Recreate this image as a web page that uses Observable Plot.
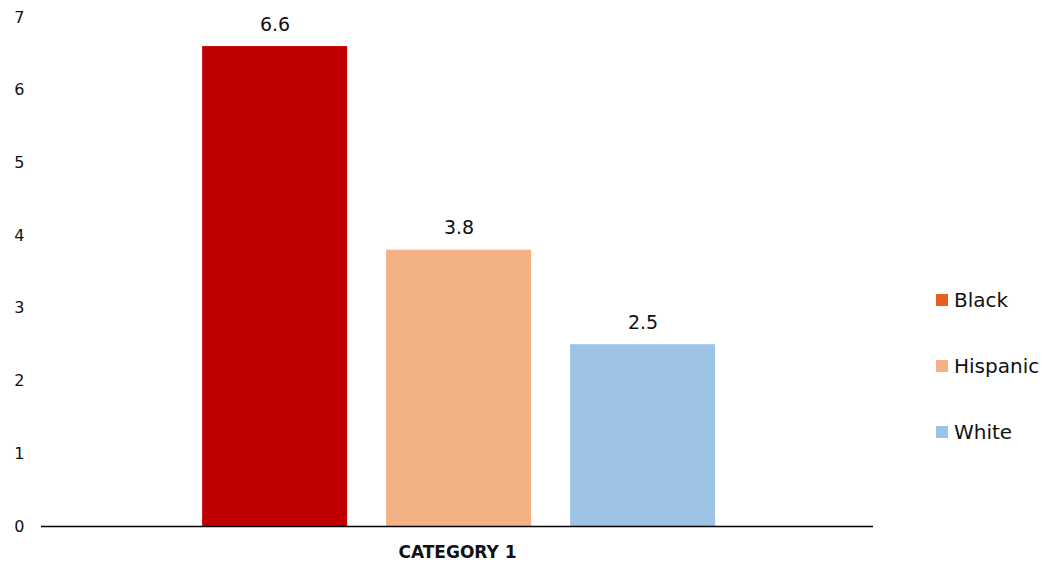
<!DOCTYPE html>
<html>
<head>
<meta charset="utf-8">
<script src="https://cdn.jsdelivr.net/npm/d3@7"></script>
<script src="https://cdn.jsdelivr.net/npm/@observablehq/plot@0.6"></script>
<style>
  html, body { margin: 0; padding: 0; background: #fff; }
  #wrap { position: relative; width: 1045px; height: 563px; font-family: "DejaVu Sans", sans-serif; }
  #legend { position: absolute; left: 936px; top: 288px; }
  .item { display: flex; align-items: center; height: 24px; margin-bottom: 42px; font-size: 20px; color: #111; }
  .sw { width: 12px; height: 12px; margin-right: 6px; }
</style>
</head>
<body>
<div id="wrap"></div>
<script>
// Series for the single category
const category = "CATEGORY 1";
const groups = ["Black", "Hispanic", "White"];
const values = [6.6, 3.8, 2.5];
const barColors = ["#C00000", "#F4B183", "#9DC3E6"];
const legendColors = ["#E5601C", "#F4B183", "#9DC3E6"];
const yTicks = [0, 1, 2, 3, 4, 5, 6, 7];

const data = groups.map((g, i) => ({category, group: g, value: values[i]}));

const font = "'DejaVu Sans', sans-serif";

const chart = Plot.plot({
  width: 1045,
  height: 563,
  marginLeft: 41,
  marginRight: 172,
  marginTop: 17,
  marginBottom: 37,
  style: {fontFamily: font, fontSize: "16px", color: "#111", background: "#fff"},
  fx: {domain: [category], padding: 0, round: false, label: null},
  x: {domain: groups, paddingInner: 0.212, paddingOuter: 0.867, align: 0.505, round: false, axis: null},
  y: {domain: [0, 7], ticks: yTicks, label: null},
  color: {domain: groups, range: barColors},
  marks: [
    Plot.axisY({ticks: yTicks, tickFormat: d3.format("d"), tickSize: 0, tickPadding: 17, label: null, fontSize: 16}),
    Plot.axisFx({anchor: "bottom", tickSize: 0, tickPadding: 19, label: null, fontWeight: "bold", fontSize: 17}),
    Plot.barY(data, {fx: "category", x: "group", y: "value", fill: "group"}),
    Plot.text(data, {fx: "category", x: "group", y: "value", text: d => d.value.toFixed(1), dy: -22, fontSize: 19, fill: "#111"}),
    Plot.ruleY([0], {stroke: "#000", strokeWidth: 1.5})
  ]
});

const wrap = document.getElementById("wrap");
wrap.appendChild(chart);

const legend = document.createElement("div");
legend.id = "legend";
groups.forEach((g, i) => {
  const item = document.createElement("div");
  item.className = "item";
  const sw = document.createElement("span");
  sw.className = "sw";
  sw.style.background = legendColors[i];
  const label = document.createElement("span");
  label.textContent = g;
  item.appendChild(sw);
  item.appendChild(label);
  legend.appendChild(item);
});
wrap.appendChild(legend);
</script>
</body>
</html>
